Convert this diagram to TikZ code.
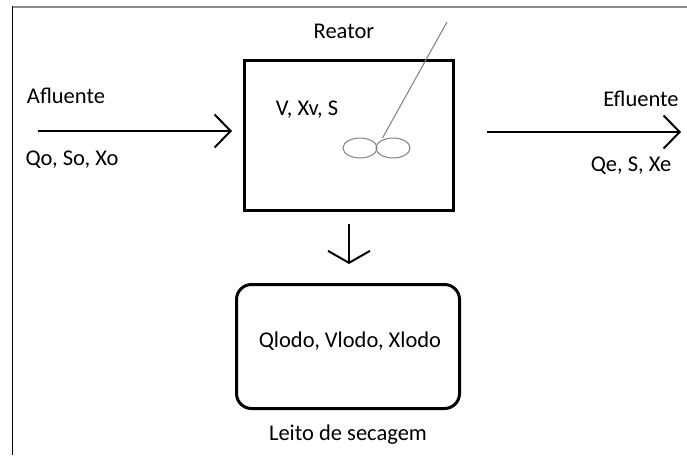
\documentclass[tikz,border=0pt]{standalone}
\usepackage{fontspec}
\setmainfont{Carlito}
\usetikzlibrary{arrows.meta,shapes.geometric,calc}
\begin{document}
\begin{tikzpicture}[x=1pt,y=-1pt,
  lbl/.style={inner sep=0pt,font=\fontsize{22.5}{26}\selectfont},
  arr/.style={line width=2pt,-{Straight Barb[length=16pt,width=33pt,line width=2pt]}},
  darr/.style={line width=2pt,-{Straight Barb[length=12pt,width=42pt,line width=2pt]}},
  tank/.style={draw,line width=3pt,minimum width=209pt,minimum height=150pt,inner sep=0pt},
  bedbox/.style={draw,line width=3pt,rounded corners=15pt,minimum width=223pt,minimum height=124pt,inner sep=0pt},
  blade/.style={draw=gray,line width=1pt,ellipse,minimum width=34pt,minimum height=20pt,inner sep=0pt}]
\useasboundingbox (0,0) rectangle (687,455);
% frame
\draw[draw=gray!90,line width=2pt] (12,6.5) -- (687,6.5);
\draw[line width=1pt] (12.5,6) -- (12.5,455);
% reactor
\node[tank] (reactor) at (349,135) {};
\node[lbl] (reator) at (344,31) {Reator};
\node[lbl] (vxs) at (307,110) {V, Xv, S};
% stirrer
\node[blade] (imp1) at (360,148) {};
\node[blade] (imp2) at (393,148) {};
\coordinate (shaft) at (447,22);
\draw[gray,line width=1pt] (shaft) -- ($(imp1.east)+(5,-10)$);
% inflow
\coordinate (ain) at (38,131);
\coordinate (aend) at (232,131);
\draw[arr] (ain) -- (aend);
\node[lbl] (afl) at (66,96) {Afluente};
\node[lbl] (qo) at (72,160) {Qo, So, Xo};
% outflow
\coordinate (estart) at (487,132);
\coordinate (eout) at (681,132);
\draw[arr] (estart) -- (eout);
\node[lbl] (efl) at (641,99) {Efluente};
\node[lbl] (qe) at (631,166) {Qe, S, Xe};
% sludge bed
\node[bedbox] (bed) at (348,346.5) {};
\node[lbl] (qlodo) at (350,341) {Qlodo, Vlodo, Xlodo};
\node[lbl] (leito) at (348,435) {Leito de secagem};
\draw[darr,shorten <=12pt,shorten >=19pt] (reactor.south) -- (reactor.south |- bed.north);
\end{tikzpicture}
\end{document}
